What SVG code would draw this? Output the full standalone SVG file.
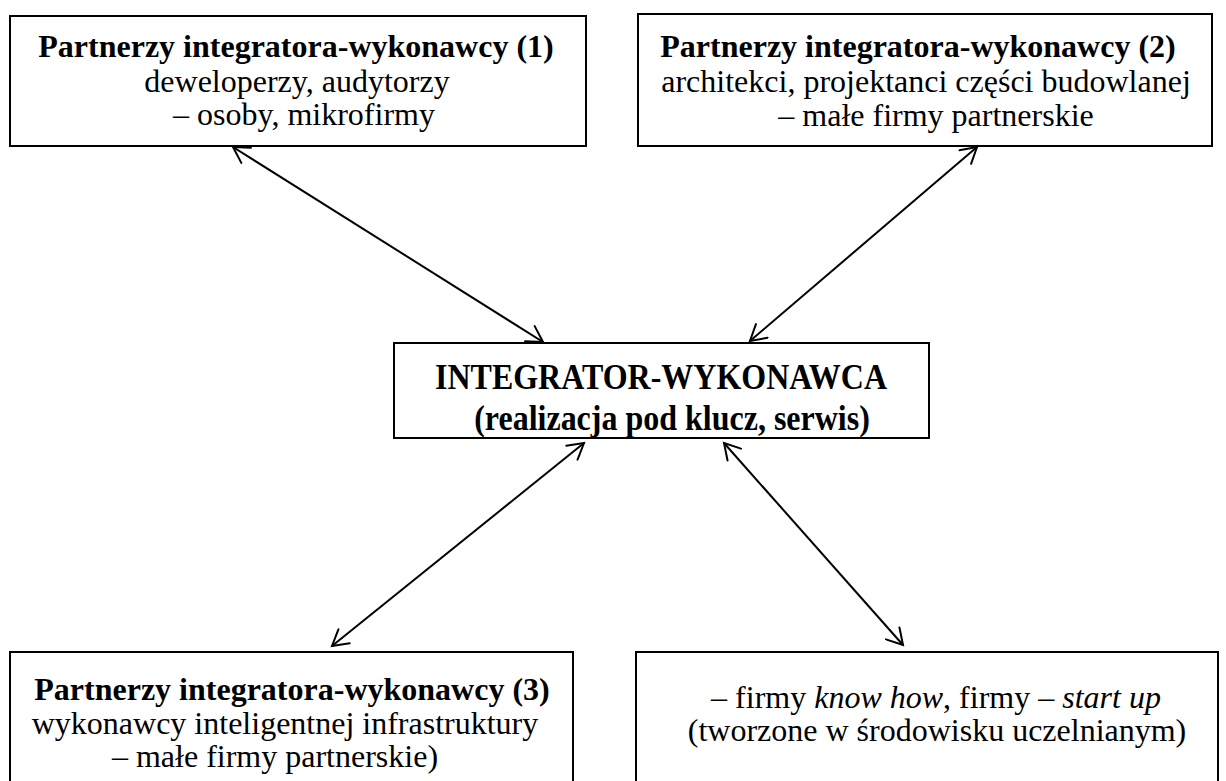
<svg xmlns="http://www.w3.org/2000/svg" width="1226" height="781" viewBox="0 0 1226 781">
<style>
.box{fill:#fff;stroke:#000;stroke-width:2}
.t{font-family:"Liberation Serif","Times New Roman",serif;font-size:32px;fill:#000;text-anchor:middle}
.b{font-weight:bold}
.i{font-style:italic}
.c{stroke:#000;stroke-width:2;fill:none;marker-start:url(#ah);marker-end:url(#ah)}
</style>
<defs>
<marker id="ah" markerUnits="userSpaceOnUse" viewBox="0 0 20 20" markerWidth="20" markerHeight="20" refX="17" refY="10" orient="auto-start-reverse">
<path d="M1.5,1 L17,10 L1.5,19" fill="none" stroke="#000" stroke-width="2" stroke-linecap="round"/>
</marker>
</defs>
<rect width="1226" height="781" fill="#fff"/>
<g id="p1">
<rect class="box" x="10" y="16" width="576" height="130"/>
<text class="t b" x="296" y="57">Partnerzy integratora-wykonawcy (1)</text>
<text class="t" x="297" y="92">deweloperzy, audytorzy</text>
<text class="t" x="304" y="125">– osoby, mikrofirmy</text>
</g>
<g id="p2">
<rect class="box" x="638" y="14" width="574" height="132"/>
<text class="t b" x="918" y="57">Partnerzy integratora-wykonawcy (2)</text>
<text class="t" x="926" y="92">architekci, projektanci części budowlanej</text>
<text class="t" x="936" y="126">– małe firmy partnerskie</text>
</g>
<g id="center">
<rect class="box" x="394" y="343" width="535" height="95"/>
<text class="t b" transform="translate(661,389) scale(1,1.15)">INTEGRATOR-WYKONAWCA</text>
<text class="t b" transform="translate(672,430) scale(1,1.15)">(realizacja pod klucz, serwis)</text>
</g>
<g id="p3">
<rect class="box" x="10" y="652" width="563" height="140"/>
<text class="t b" x="292" y="700">Partnerzy integratora-wykonawcy (3)</text>
<text class="t" x="285" y="734">wykonawcy inteligentnej infrastruktury</text>
<text class="t" x="275" y="767">– małe firmy partnerskie)</text>
</g>
<g id="p4">
<rect class="box" x="636" y="652" width="582" height="140"/>
<text class="t" x="936" y="708">– firmy <tspan class="i">know how</tspan>, firmy – <tspan class="i">start up</tspan></text>
<text class="t" x="937" y="741">(tworzone w środowisku uczelnianym)</text>
</g>
<g id="connectors">
<line class="c" x1="233" y1="147" x2="543" y2="342"/>
<line class="c" x1="977" y1="147" x2="750" y2="341"/>
<line class="c" x1="584" y1="443" x2="332" y2="646"/>
<line class="c" x1="724" y1="443" x2="903" y2="645"/>
</g>
</svg>
